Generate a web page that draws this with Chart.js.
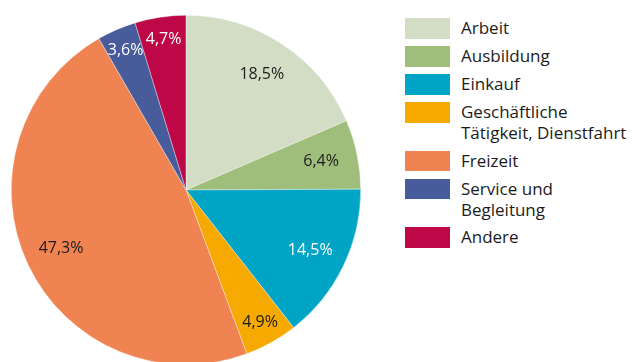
<!DOCTYPE html>
<html>
<head>
<meta charset="utf-8">
<script src="https://cdn.jsdelivr.net/npm/chart.js@4"></script>
<style>
  html, body { margin: 0; padding: 0; background: #fff; width: 633px; height: 362px; overflow: hidden; }
  #pieBox { position: absolute; left: 11px; top: 15px; width: 350px; height: 350px; }
  #legend { position: absolute; left: 405px; top: 18px; font-family: "Open Sans", sans-serif; font-size: 17px; color: #1c1c1c; }
  .item { display: flex; align-items: flex-start; margin-bottom: 7.5px; }
  .swatch { width: 45px; height: 20.5px; flex: none; margin-right: 11px; }
  .text { line-height: 21px; margin-top: -1px; white-space: nowrap; }
</style>
</head>
<body>
<div id="pieBox"><canvas id="pie"></canvas></div>
<div id="legend"></div>
<script>
// Wegezwecke – Anteile in Prozent
const categories = ["Arbeit", "Ausbildung", "Einkauf", "Geschäftliche Tätigkeit, Dienstfahrt", "Freizeit", "Service und Begleitung", "Andere"];
const legendLines = [["Arbeit"], ["Ausbildung"], ["Einkauf"], ["Geschäftliche", "Tätigkeit, Dienstfahrt"], ["Freizeit"], ["Service und", "Begleitung"], ["Andere"]];
const shares = [18.5, 6.4, 14.5, 4.9, 47.3, 3.6, 4.7];
const colors = ["#d3ddc5", "#9fbe7c", "#00a5c6", "#f6a900", "#ef8351", "#485c9c", "#bd0747"];
const labelColors = ["#1c1c1c", "#1c1c1c", "#ffffff", "#1c1c1c", "#1c1c1c", "#ffffff", "#ffffff"];

// Legend built from the same arrays
const legend = document.getElementById("legend");
legendLines.forEach((lines, i) => {
  const row = document.createElement("div");
  row.className = "item";
  const sw = document.createElement("div");
  sw.className = "swatch";
  sw.style.background = colors[i];
  const tx = document.createElement("div");
  tx.className = "text";
  tx.innerHTML = lines.join("<br>");
  row.appendChild(sw);
  row.appendChild(tx);
  legend.appendChild(row);
});

// Percentage labels placed inside each slice
const sliceLabels = {
  id: "sliceLabels",
  afterDatasetsDraw(chart) {
    const ctx = chart.ctx;
    const meta = chart.getDatasetMeta(0);
    ctx.save();
    ctx.font = "16px 'Open Sans', sans-serif";
    ctx.textAlign = "center";
    ctx.textBaseline = "middle";
    meta.data.forEach((arc, i) => {
      const v = chart.data.datasets[0].data[i];
      const mid = (arc.startAngle + arc.endAngle) / 2;
      const f = v > 6 ? 0.79 : 0.87;
      const x = arc.x + Math.cos(mid) * arc.outerRadius * f;
      const y = arc.y + Math.sin(mid) * arc.outerRadius * f;
      ctx.fillStyle = labelColors[i];
      ctx.fillText(v.toFixed(1).replace(".", ",") + "%", x, y);
    });
    ctx.restore();
  }
};

new Chart(document.getElementById("pie"), {
  type: "pie",
  data: {
    labels: categories,
    datasets: [{
      data: shares,
      backgroundColor: colors,
      borderColor: "rgba(255,255,255,0.6)",
      borderWidth: 0.6
    }]
  },
  options: {
    responsive: true,
    maintainAspectRatio: false,
    animation: false,
    layout: { padding: 0 },
    plugins: {
      legend: { display: false },
      tooltip: { enabled: false }
    }
  },
  plugins: [sliceLabels]
});
</script>
</body>
</html>
